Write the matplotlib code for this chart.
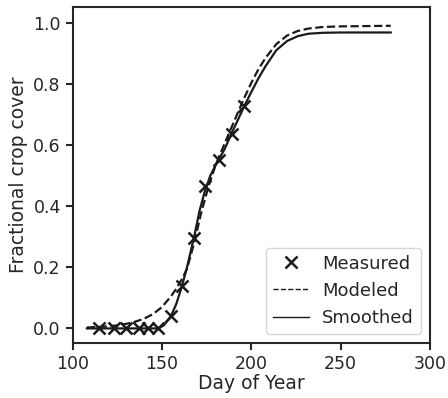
import numpy as np
import matplotlib
matplotlib.use("Agg")
import matplotlib.pyplot as plt

# measured crop cover
meas_day = [115, 123, 130, 137, 142, 148, 155, 161, 168, 174, 182, 189, 196]
meas_cov = [0.0, 0.0, 0.0, 0.0, 0.0, 0.0, 0.04, 0.139, 0.296, 0.467, 0.553, 0.638, 0.729]

# modeled curve
mod_day = [108, 115, 120, 125, 130, 135, 140, 145, 150, 155, 158, 161, 164, 168, 172,
           176, 180, 185, 189, 193, 196, 200, 204, 208, 214, 220, 226, 232, 240, 250, 278]
mod_cov = [0.003, 0.005, 0.007, 0.01, 0.015, 0.022, 0.032, 0.047, 0.07, 0.105, 0.13, 0.16,
           0.195, 0.28, 0.38, 0.465, 0.535, 0.605, 0.66, 0.715, 0.755, 0.805, 0.85, 0.887,
           0.932, 0.96, 0.975, 0.983, 0.988, 0.99, 0.992]

# smoothed curve
smo_day = [108, 120, 130, 140, 148, 151, 155, 158, 161, 164, 168, 171, 174, 177, 180, 185,
           189, 193, 196, 200, 204, 208, 214, 220, 226, 232, 240, 250, 278]
smo_cov = [0.0, 0.0, 0.0, 0.0, 0.0, 0.01, 0.04, 0.08, 0.135, 0.2, 0.3, 0.385, 0.45,
           0.5, 0.535, 0.587, 0.64, 0.69, 0.728, 0.775, 0.82, 0.86, 0.912, 0.942, 0.958,
           0.966, 0.969, 0.97, 0.97]

dark = "#262626"
plt.rcParams.update({
    "text.color": dark, "axes.labelcolor": dark, "axes.edgecolor": dark,
    "xtick.color": dark, "ytick.color": dark,
})

fig = plt.figure(figsize=(4.48, 3.98), dpi=100)
ax = fig.add_axes([0.162, 0.138, 0.798, 0.844])

ax.plot(meas_day, meas_cov, "x", color="#1a1a1a", ms=8.5, mew=1.8, label="Measured")
ax.plot(mod_day, mod_cov, "--", color="#1a1a1a", lw=1.6, label="Modeled")
ax.plot(smo_day, smo_cov, "-", color="#1a1a1a", lw=1.6, label="Smoothed")

ax.set_xlim(100, 300)
ax.set_ylim(-0.048, 1.053)
ax.set_xticks([100, 150, 200, 250, 300])
ax.set_yticks([0.0, 0.2, 0.4, 0.6, 0.8, 1.0])
ax.set_xlabel("Day of Year", fontsize=13.5, labelpad=1)
ax.set_ylabel("Fractional crop cover", fontsize=13.5)
ax.tick_params(labelsize=12.5, width=1.5, length=5)
for s in ax.spines.values():
    s.set_linewidth(1.5)

leg = ax.legend(loc="lower right", fontsize=13, handletextpad=0.7)
for line in leg.get_lines():
    line.set_linewidth(1.0)

fig.savefig("out.png", dpi=100)
